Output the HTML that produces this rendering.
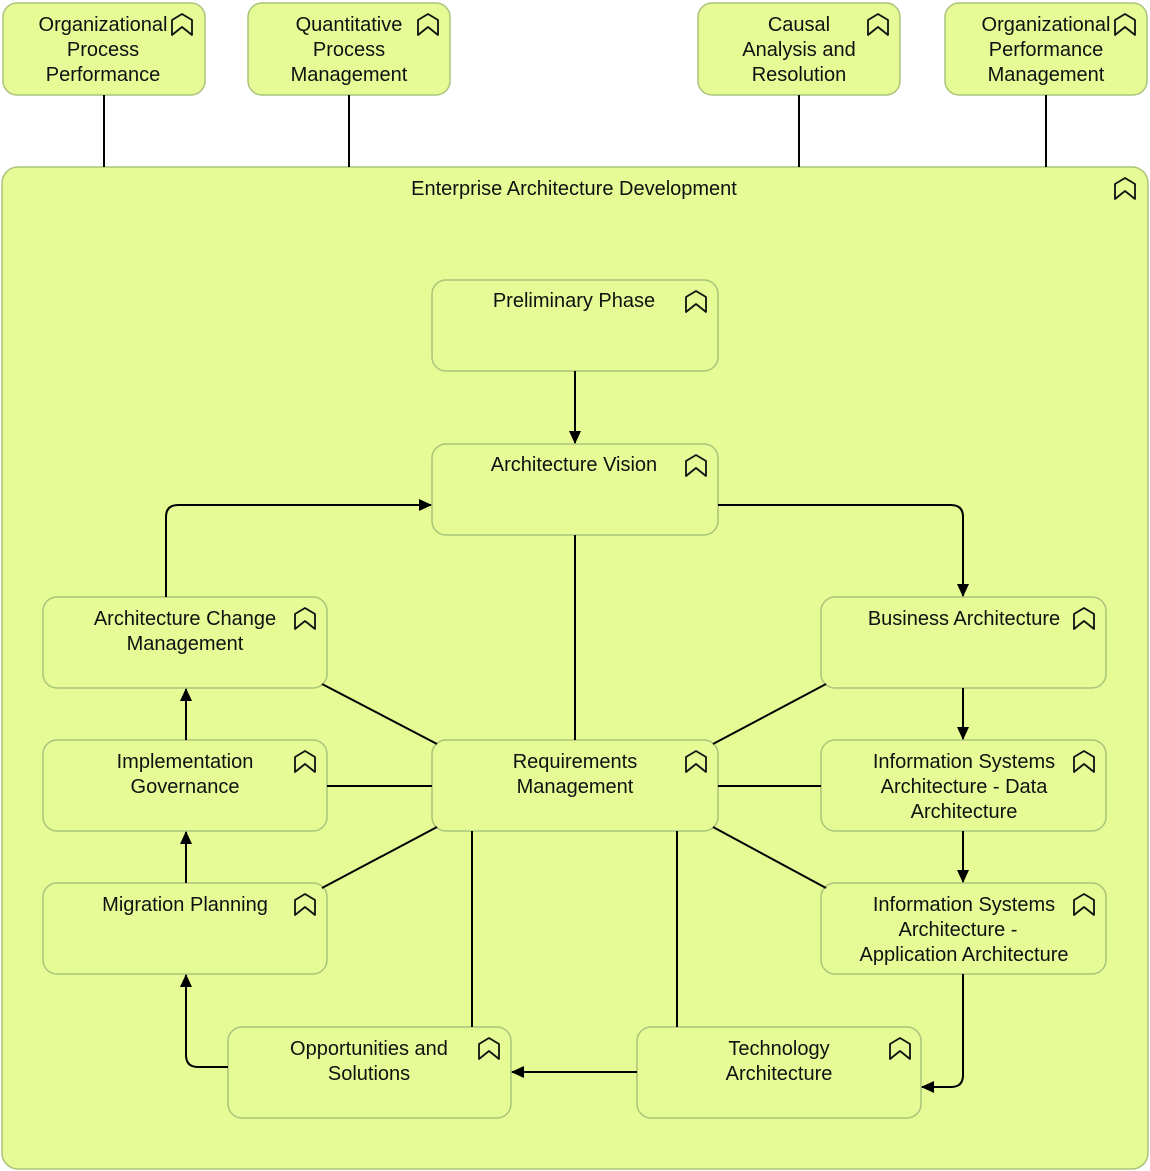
<!DOCTYPE html>
<html><head><meta charset="utf-8"><style>
html,body{margin:0;padding:0;background:#fff;}
svg{display:block;}
text{font-family:"Liberation Sans",sans-serif;font-size:20px;fill:#111;text-anchor:middle;}
</style></head><body>
<svg width="1150" height="1171" viewBox="0 0 1150 1171" xmlns="http://www.w3.org/2000/svg">
<defs>
<marker id="a" markerWidth="13" markerHeight="12" refX="12" refY="6" orient="auto" markerUnits="userSpaceOnUse">
<path d="M0,0 L13,6 L0,12 z" fill="#000"/></marker>
<g id="ic"><path d="M0,21 L0,6 L10,0 L20,6 L20,21 L10,13 Z" fill="none" stroke="#111" stroke-width="1.8" stroke-linejoin="round"/></g>
</defs>
<g fill="#e6fa96" stroke="#a9c47a" stroke-width="1.5">
<rect x="2" y="167" width="1146" height="1002" rx="16"/>
<rect x="3" y="3" width="202" height="92" rx="14"/>
<rect x="248" y="3" width="202" height="92" rx="14"/>
<rect x="698" y="3" width="202" height="92" rx="14"/>
<rect x="945" y="3" width="202" height="92" rx="14"/>
<rect x="432" y="280" width="286" height="91" rx="14"/>
<rect x="432" y="444" width="286" height="91" rx="14"/>
<rect x="43" y="597" width="284" height="91" rx="14"/>
<rect x="821" y="597" width="285" height="91" rx="14"/>
<rect x="43" y="740" width="284" height="91" rx="14"/>
<rect x="432" y="740" width="286" height="91" rx="14"/>
<rect x="821" y="740" width="285" height="91" rx="14"/>
<rect x="43" y="883" width="284" height="91" rx="14"/>
<rect x="821" y="883" width="285" height="91" rx="14"/>
<rect x="228" y="1027" width="283" height="91" rx="14"/>
<rect x="637" y="1027" width="284" height="91" rx="14"/>
</g>
<g stroke="#000" stroke-width="2" fill="none">
<line x1="104" y1="95" x2="104" y2="167"/><line x1="349" y1="95" x2="349" y2="167"/>
<line x1="799" y1="95" x2="799" y2="167"/><line x1="1046" y1="95" x2="1046" y2="167"/>
<line x1="575" y1="371" x2="575" y2="443" marker-end="url(#a)"/>
<path d="M166,597 L166,517 Q166,505 178,505 L431,505" marker-end="url(#a)"/>
<path d="M718,505 L951,505 Q963,505 963,517 L963,596" marker-end="url(#a)"/>
<line x1="575" y1="535" x2="575" y2="740"/>
<line x1="322" y1="684" x2="437" y2="744"/>
<line x1="826" y1="684" x2="713" y2="744"/>
<line x1="327" y1="786" x2="432" y2="786"/>
<line x1="718" y1="786" x2="821" y2="786"/>
<line x1="322" y1="888" x2="437" y2="827"/>
<line x1="826" y1="888" x2="713" y2="827"/>
<line x1="472" y1="831" x2="472" y2="1027"/>
<line x1="677" y1="831" x2="677" y2="1027"/>
<line x1="186" y1="740" x2="186" y2="689" marker-end="url(#a)"/>
<line x1="186" y1="883" x2="186" y2="832" marker-end="url(#a)"/>
<path d="M228,1067 L198,1067 Q186,1067 186,1055 L186,975" marker-end="url(#a)"/>
<line x1="963" y1="688" x2="963" y2="739" marker-end="url(#a)"/>
<line x1="963" y1="831" x2="963" y2="882" marker-end="url(#a)"/>
<path d="M963,974 L963,1075 Q963,1087 951,1087 L922,1087" marker-end="url(#a)"/>
<line x1="637" y1="1072" x2="512" y2="1072" marker-end="url(#a)"/>
</g>
<use href="#ic" x="172" y="14"/><use href="#ic" x="418" y="14"/><use href="#ic" x="868" y="14"/><use href="#ic" x="1115" y="14"/>
<use href="#ic" x="1115" y="178"/>
<use href="#ic" x="686" y="291"/><use href="#ic" x="686" y="455"/>
<use href="#ic" x="295" y="608"/><use href="#ic" x="1074" y="608"/>
<use href="#ic" x="295" y="751"/><use href="#ic" x="686" y="751"/><use href="#ic" x="1074" y="751"/>
<use href="#ic" x="295" y="894"/><use href="#ic" x="1074" y="894"/>
<use href="#ic" x="479" y="1038"/><use href="#ic" x="890" y="1038"/>
<text x="103" y="31">Organizational</text><text x="103" y="56">Process</text><text x="103" y="81">Performance</text>
<text x="349" y="31">Quantitative</text><text x="349" y="56">Process</text><text x="349" y="81">Management</text>
<text x="799" y="31">Causal</text><text x="799" y="56">Analysis and</text><text x="799" y="81">Resolution</text>
<text x="1046" y="31">Organizational</text><text x="1046" y="56">Performance</text><text x="1046" y="81">Management</text>
<text x="574" y="195">Enterprise Architecture Development</text>
<text x="574" y="307">Preliminary Phase</text>
<text x="574" y="471">Architecture Vision</text>
<text x="185" y="625">Architecture Change</text><text x="185" y="650">Management</text>
<text x="964" y="625">Business Architecture</text>
<text x="185" y="768">Implementation</text><text x="185" y="793">Governance</text>
<text x="575" y="768">Requirements</text><text x="575" y="793">Management</text>
<text x="964" y="768">Information Systems</text><text x="964" y="793">Architecture - Data</text><text x="964" y="818">Architecture</text>
<text x="185" y="911">Migration Planning</text>
<text x="964" y="911">Information Systems</text><text x="958" y="936">Architecture -</text><text x="964" y="961">Application Architecture</text>
<text x="369" y="1055">Opportunities and</text><text x="369" y="1080">Solutions</text>
<text x="779" y="1055">Technology</text><text x="779" y="1080">Architecture</text>
</svg>
</body></html>
